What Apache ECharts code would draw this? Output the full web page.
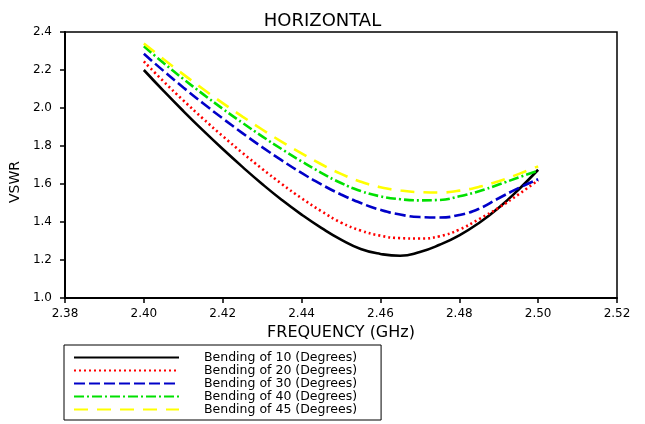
<!DOCTYPE html>
<html><head><meta charset="utf-8">
<script src="https://cdn.jsdelivr.net/npm/echarts@6/dist/echarts.min.js"></script>
<style>html,body{margin:0;padding:0;background:#fff}#c{width:645px;height:424px}</style>
</head><body><div id="c"></div>
<script>
const freq = [2.400, 2.405, 2.410, 2.415, 2.420, 2.425, 2.430, 2.435, 2.440, 2.445, 2.450,
              2.455, 2.460, 2.465, 2.470, 2.475, 2.480, 2.485, 2.490, 2.495, 2.500];
const bend10 = [2.200, 2.090, 1.984, 1.882, 1.784, 1.690, 1.600, 1.516, 1.439, 1.369, 1.307,
                1.258, 1.232, 1.222, 1.242, 1.280, 1.330, 1.395, 1.475, 1.570, 1.675];
const bend20 = [2.245, 2.140, 2.040, 1.944, 1.852, 1.764, 1.680, 1.600, 1.525, 1.457, 1.397,
                1.355, 1.328, 1.315, 1.313, 1.325, 1.360, 1.415, 1.475, 1.545, 1.620];
const bend30 = [2.285, 2.195, 2.108, 2.025, 1.945, 1.868, 1.794, 1.724, 1.658, 1.598, 1.545,
                1.500, 1.464, 1.439, 1.426, 1.424, 1.437, 1.470, 1.525, 1.578, 1.625];
const bend40 = [2.325, 2.237, 2.153, 2.073, 1.996, 1.922, 1.851, 1.783, 1.719, 1.659, 1.605,
                1.563, 1.535, 1.520, 1.514, 1.516, 1.535, 1.562, 1.597, 1.634, 1.670];
const bend45 = [2.340, 2.257, 2.177, 2.100, 2.026, 1.955, 1.887, 1.822, 1.761, 1.704, 1.653,
                1.612, 1.583, 1.566, 1.557, 1.555, 1.565, 1.585, 1.615, 1.652, 1.693];
const names = ['Bending of 10 (Degrees)','Bending of 20 (Degrees)','Bending of 30 (Degrees)','Bending of 40 (Degrees)','Bending of 45 (Degrees)'];
const colors = ['#000000','#ff0000','#0000c8','#00e000','#ffff00'];
const dashes = ['solid',[2,3],[11,4],[10,3,2,3],[14,9]];
const all = [bend10,bend20,bend30,bend40,bend45];
const font = 'DejaVu Sans, sans-serif';
const chart = echarts.init(document.getElementById('c'));
chart.setOption({
  animation:false,
  backgroundColor:'#fff',
  title:{text:'HORIZONTAL',left:'center',top:7,textStyle:{fontFamily:font,fontSize:18,fontWeight:'normal',color:'#000'}},
  grid:{left:65,right:28,top:32,bottom:126,show:true,borderColor:'#000',borderWidth:1.5},
  legend:{orient:'vertical',left:64,top:345,height:72,itemWidth:105,itemHeight:11.7,itemGap:0,
    padding:[6,24,4,9],borderColor:'#000',borderWidth:1,
    itemStyle:{opacity:0,borderWidth:0},
    textStyle:{fontFamily:font,fontSize:12.5,lineHeight:11.7,color:'#000',padding:[0,0,0,20]},
    data:names},
  xAxis:{type:'value',min:2.38,max:2.52,interval:0.02,
    name:'FREQUENCY (GHz)',nameLocation:'middle',nameGap:20,
    nameTextStyle:{fontFamily:font,fontSize:16,color:'#000'},
    axisLine:{show:true,lineStyle:{color:'#000',width:2}},
    axisTick:{show:true,inside:false,length:5,lineStyle:{color:'#000',width:1.5}},
    axisLabel:{fontFamily:font,fontSize:12,color:'#000',margin:10,formatter:v=>v.toFixed(2)},
    splitLine:{show:false}},
  yAxis:{type:'value',min:1.0,max:2.4,interval:0.2,
    name:'VSWR',nameLocation:'middle',nameGap:35,
    nameTextStyle:{fontFamily:font,fontSize:14,color:'#000',padding:[0,34,0,0]},
    axisLine:{show:true,lineStyle:{color:'#000',width:2}},
    axisTick:{show:true,inside:false,length:5,lineStyle:{color:'#000',width:1.5}},
    axisLabel:{fontFamily:font,fontSize:12,color:'#000',margin:13,formatter:v=>v.toFixed(1)},
    splitLine:{show:false}},
  series: all.map((d,i)=>({
    name:names[i],type:'line',smooth:true,showSymbol:false,symbol:'none',
    data:freq.map((f,j)=>[f,d[j]]),
    lineStyle:{color:colors[i],width:2.6,type:dashes[i]},
    itemStyle:{color:colors[i]}
  }))
});
</script></body></html>
